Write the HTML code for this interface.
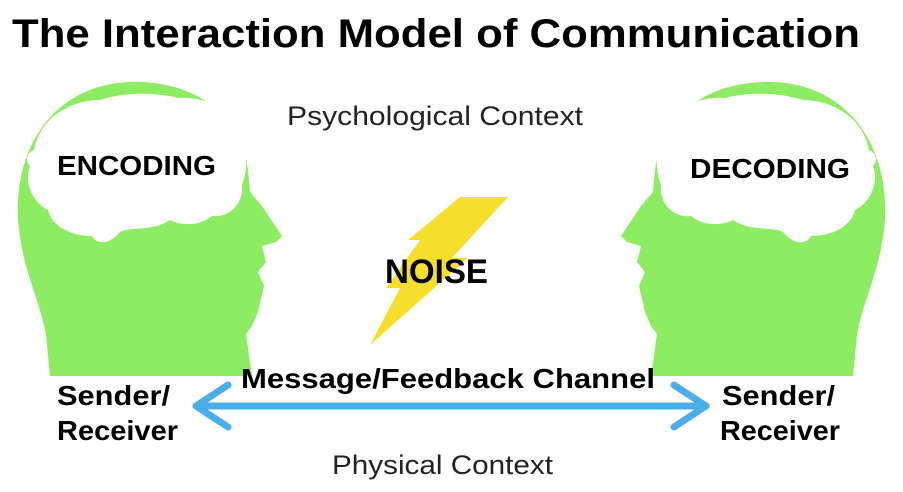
<!DOCTYPE html>
<html><head><meta charset="utf-8"><style>html,body{margin:0;padding:0;background:#fff}svg{display:block}</style></head>
<body>
<svg width="903" height="492" viewBox="0 0 903 492" xmlns="http://www.w3.org/2000/svg" font-family="Liberation Sans, sans-serif">
<defs>
<g id="head">
<path fill="#8eec62" d="M50,376 L46,335 C40,300 22,270 18,220 C14,140 60,84 130,82 C200,80 242,120 248,170 L250,192 L262,206 L282,236 L276,242 L262,246 L266,262 L258,272 L264,286 L258,312 L252,326 L246,334 L252,376 Z"/>
<path fill="#fff" d="M34,150 C40,118 70,100 100,100 C125,92 155,92 178,98 C205,96 232,110 240,132 C248,148 248,170 242,185 C244,205 228,218 212,216 C200,226 182,226 170,220 C152,232 132,226 120,232 C108,246 96,244 92,236 C70,236 52,226 48,210 C32,202 24,182 30,166 C24,160 28,152 34,150 Z"/>
</g>
</defs>
<use href="#head"/>
<use href="#head" transform="translate(903,0) scale(-1,1)"/>
<polygon fill="#f5de2c" points="460,197 508,197 452,258 468,258 370,345 400,288 386,288 420,240 408,240"/>
<text x="12" y="47" font-size="40" font-weight="bold" textLength="848" lengthAdjust="spacingAndGlyphs">The Interaction Model of Communication</text>
<text x="287" y="125" font-size="27" fill="#222" textLength="296" lengthAdjust="spacingAndGlyphs">Psychological Context</text>
<text x="57" y="175" font-size="28" font-weight="bold" textLength="159" lengthAdjust="spacingAndGlyphs">ENCODING</text>
<text x="690" y="178" font-size="28" font-weight="bold" textLength="160" lengthAdjust="spacingAndGlyphs">DECODING</text>
<text x="385" y="283" font-size="34" font-weight="bold" textLength="103" lengthAdjust="spacingAndGlyphs">NOISE</text>
<text x="241" y="388" font-size="28" font-weight="bold" textLength="414" lengthAdjust="spacingAndGlyphs">Message/Feedback Channel</text>
<text x="57" y="405" font-size="28" font-weight="bold" textLength="113" lengthAdjust="spacingAndGlyphs">Sender/</text>
<text x="57" y="440" font-size="28" font-weight="bold" textLength="121" lengthAdjust="spacingAndGlyphs">Receiver</text>
<text x="722" y="405" font-size="28" font-weight="bold" textLength="113" lengthAdjust="spacingAndGlyphs">Sender/</text>
<text x="720" y="440" font-size="28" font-weight="bold" textLength="120" lengthAdjust="spacingAndGlyphs">Receiver</text>
<text x="332" y="474" font-size="27" fill="#222" textLength="221" lengthAdjust="spacingAndGlyphs">Physical Context</text>
<g stroke="#4aaee8" stroke-width="7" stroke-linecap="round" stroke-linejoin="round" fill="none">
<line x1="196" y1="406" x2="706" y2="406"/>
<polyline points="228,385 196,406 228,427"/>
<polyline points="674,385 706,406 674,427"/>
</g>
</svg>
</body></html>
